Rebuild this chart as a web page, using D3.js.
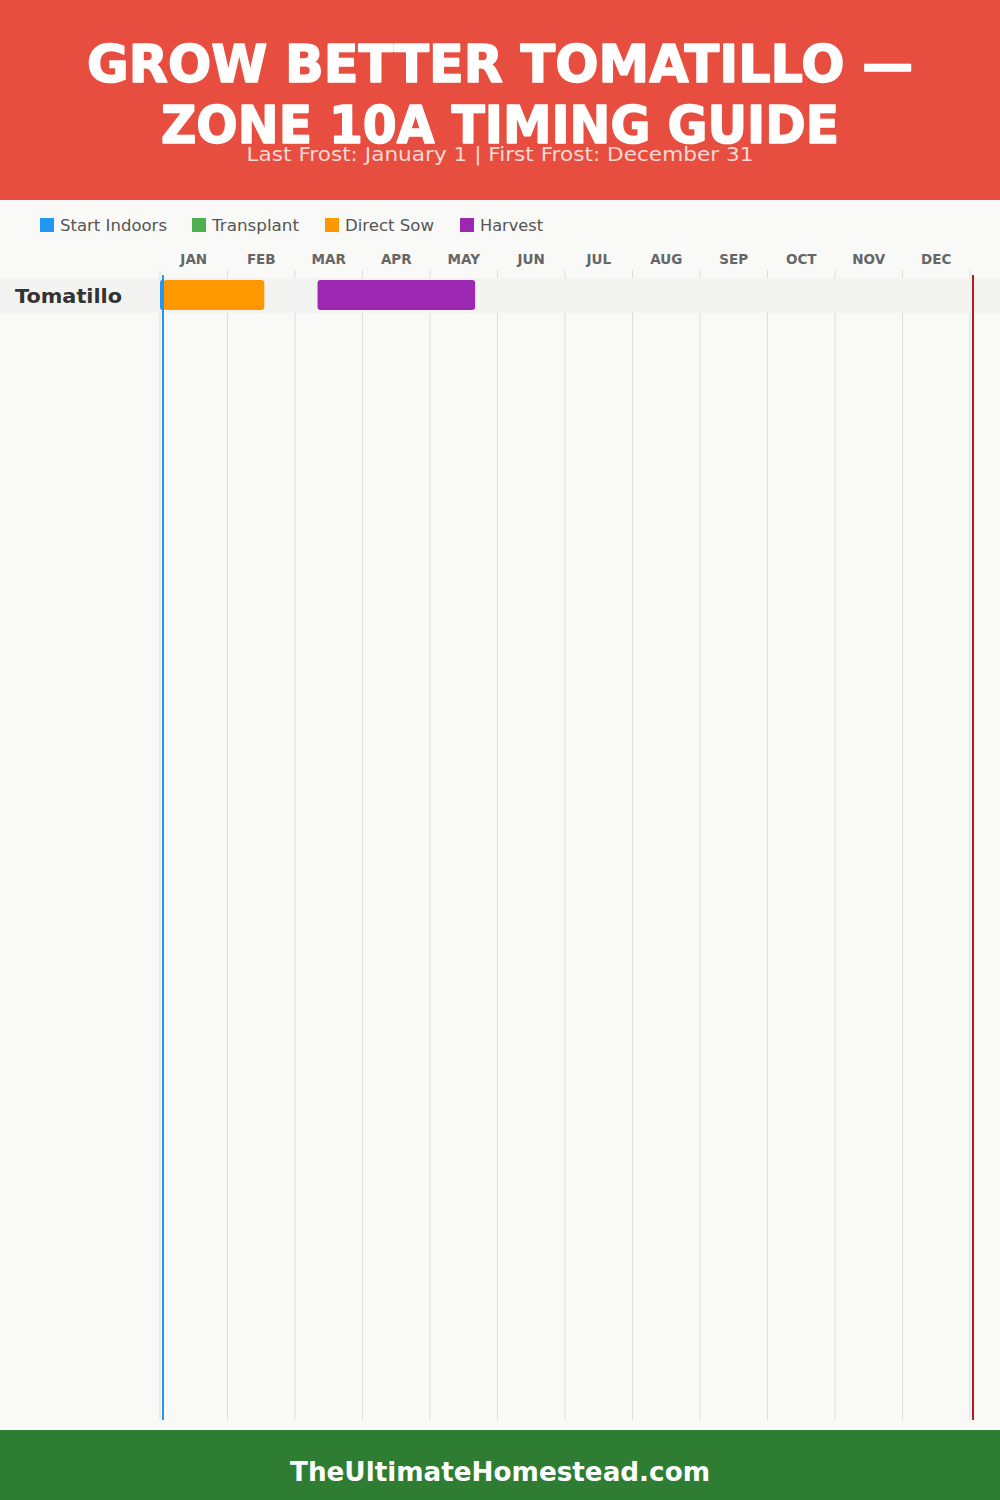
<!DOCTYPE html>
<html>
<head>
<meta charset="utf-8">
<script src="https://cdn.jsdelivr.net/npm/d3@7"></script>
<style>
  html, body { margin: 0; padding: 0; background: #f9f9f7; }
  svg { display: block; }
</style>
</head>
<body>
<div id="chart"></div>
<script>
// ---- Data ----
const titleLines = ["GROW BETTER TOMATILLO —", "ZONE 10A TIMING GUIDE"];
const subtitle = "Last Frost: January 1 | First Frost: December 31";
const footerText = "TheUltimateHomestead.com";
const months = ["JAN","FEB","MAR","APR","MAY","JUN","JUL","AUG","SEP","OCT","NOV","DEC"];
const legendItems = ["Start Indoors", "Transplant", "Direct Sow", "Harvest"];
const legendColors = ["#2196F3", "#4CAF50", "#FF9800", "#9C27B0"];
const crops = ["Tomatillo"];
// periods: crop, activity, start day, end day (day of year, 0 = start of Jan 1)
const periodCrop = ["Tomatillo", "Tomatillo", "Tomatillo"];
const periodActivity = ["Start Indoors", "Direct Sow", "Harvest"];
const periodStart = [0, 1.5, 71];
const periodEnd = [1.5, 47, 142];
const frostNames = ["Last Frost", "First Frost"];
const frostDays = [0, 365];
const frostColors = ["#2196F3", "#B71C1C"];

// ---- Layout ----
const W = 1000, H = 1500;
const svg = d3.select("#chart").append("svg").attr("width", W).attr("height", H);
const font = "'DejaVu Sans', 'Liberation Sans', sans-serif";

function fit(sel, target) {
  const n = sel.node();
  const len = n.getComputedTextLength();
  if (Math.abs(len - target) > 1) {
    sel.attr("textLength", target).attr("lengthAdjust", "spacingAndGlyphs");
  }
  return sel;
}

svg.append("rect").attr("width", W).attr("height", H).attr("fill", "#f9f9f7");

// Header
svg.append("rect").attr("x", 0).attr("y", 0).attr("width", W).attr("height", 200).attr("fill", "#E84E3F");
const titleY = [82, 143];
const titleW = [826, 678];
titleLines.forEach((t, i) => {
  const s = svg.append("text").attr("x", W / 2).attr("y", titleY[i])
    .attr("text-anchor", "middle").attr("fill", "#ffffff")
    .attr("stroke", "#ffffff").attr("stroke-width", 1.6).attr("stroke-linejoin", "round")
    .attr("font-family", font).attr("font-weight", 900).attr("font-size", 51)
    .text(t);
  fit(s, titleW[i]);
});
fit(svg.append("text").attr("x", W / 2).attr("y", 161)
  .attr("text-anchor", "middle").attr("fill", "#f6d9d5")
  .attr("font-family", font).attr("font-size", 20)
  .text(subtitle), 507);

// Scales
const x = d3.scaleLinear().domain([0, 365]).range([160, 970]);
const monthScale = d3.scaleBand().domain(months).range([160, 970]);
const rowTop = 278, rowH = 35;
const y = d3.scaleBand().domain(crops).range([rowTop, rowTop + rowH * crops.length]);
const gridTop = 270, gridBottom = 1420;

// Legend
const legendX = [40, 192, 325, 460];
const legendTextW = [107, 87, 89, 63];
const lg = svg.append("g");
legendItems.forEach((name, i) => {
  lg.append("rect").attr("x", legendX[i]).attr("y", 218).attr("width", 14).attr("height", 14)
    .attr("fill", legendColors[i]);
  fit(lg.append("text").attr("x", legendX[i] + 20).attr("y", 231)
    .attr("fill", "#555").attr("font-family", font).attr("font-size", 15)
    .text(name), legendTextW[i]);
});

// Month labels
svg.append("g").selectAll("text").data(months).join("text")
  .attr("x", d => monthScale(d) + monthScale.bandwidth() / 2)
  .attr("y", 264).attr("text-anchor", "middle")
  .attr("fill", "#666").attr("font-family", font).attr("font-weight", 700)
  .attr("font-size", 13.5)
  .text(d => d);

// Gridlines (month boundaries)
const bounds = months.map(m => monthScale(m)).concat([970]);
svg.append("g").selectAll("line").data(bounds).join("line")
  .attr("x1", d => d).attr("x2", d => d)
  .attr("y1", gridTop).attr("y2", gridBottom)
  .attr("stroke", "#dddddd").attr("stroke-width", 1);

// Row bands
svg.append("g").selectAll("rect").data(crops).join("rect")
  .attr("x", 0).attr("width", W)
  .attr("y", d => y(d)).attr("height", y.bandwidth())
  .attr("fill", "#f3f3f1");

// Row labels
svg.append("g").selectAll("text").data(crops).join("text")
  .attr("x", 15).attr("y", d => y(d) + y.bandwidth() / 2 + 7.5)
  .attr("fill", "#333").attr("font-family", font).attr("font-weight", 700)
  .attr("font-size", 20)
  .text(d => d)
  .each(function () { fit(d3.select(this), 107); });

// Bars
const colorOf = d3.scaleOrdinal().domain(legendItems).range(legendColors);
const periods = periodCrop.map((c, i) => ({ crop: c, act: periodActivity[i], s: periodStart[i], e: periodEnd[i] }));
const order = ["Direct Sow", "Harvest", "Transplant", "Start Indoors"];
svg.append("g").selectAll("rect")
  .data(periods.slice().sort((a, b) => order.indexOf(a.act) - order.indexOf(b.act)))
  .join("rect")
  .attr("x", d => x(d.s))
  .attr("width", d => Math.max(4, x(d.e) - x(d.s)))
  .attr("y", d => y(d.crop) + 2)
  .attr("height", y.bandwidth() - 5)
  .attr("rx", 3)
  .attr("fill", d => colorOf(d.act));

// Frost lines
svg.append("g").selectAll("line").data(frostDays).join("line")
  .attr("x1", d => x(d) + 3).attr("x2", d => x(d) + 3)
  .attr("y1", 275).attr("y2", gridBottom)
  .attr("stroke", (d, i) => frostColors[i]).attr("stroke-width", 2);

// Footer
svg.append("rect").attr("x", 0).attr("y", 1430).attr("width", W).attr("height", 70).attr("fill", "#2E7D32");
fit(svg.append("text").attr("x", W / 2).attr("y", 1481)
  .attr("text-anchor", "middle").attr("fill", "#ffffff")
  .attr("font-family", font).attr("font-weight", 700).attr("font-size", 27)
  .text(footerText), 420);
</script>
</body>
</html>
